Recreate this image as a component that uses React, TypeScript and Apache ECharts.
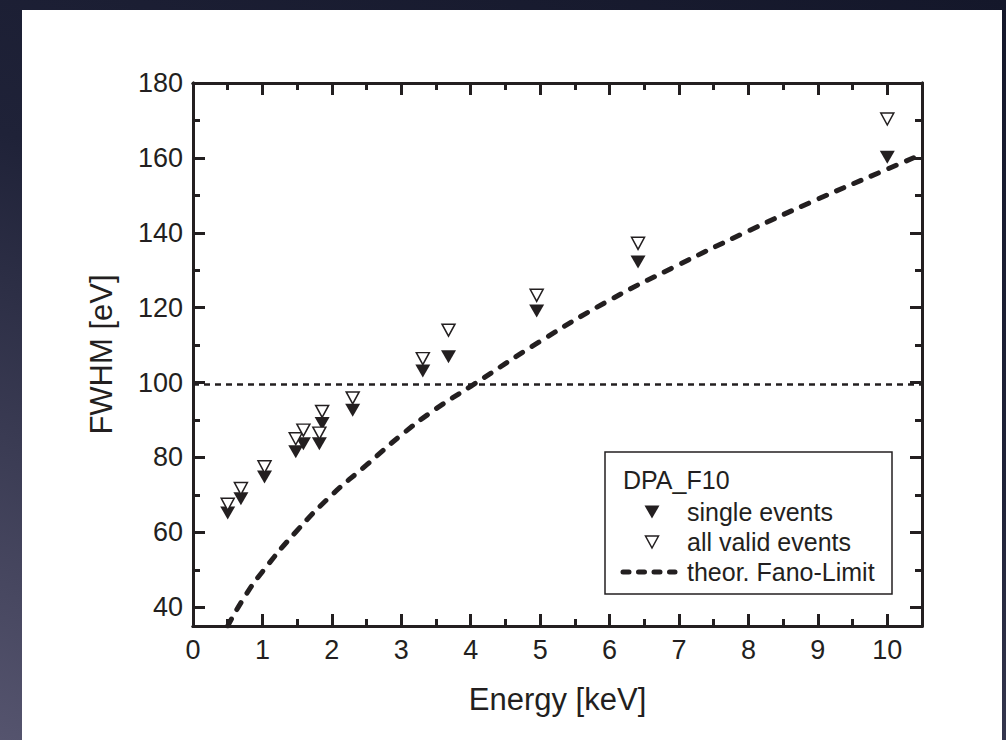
import React, { useEffect, useRef } from "react";
import * as echarts from "echarts";

// ---- data ----
const energy = [0.5, 0.69, 1.03, 1.48, 1.59, 1.82, 1.86, 2.3, 3.31, 3.68, 4.95, 6.41, 10.0];
const singleEvents = [65.2, 69.0, 74.8, 81.5, 83.7, 83.7, 89.1, 92.6, 103.1, 106.9, 119.1, 132.2, 160.2];
const allValidEvents = [67.5, 71.7, 77.5, 85.0, 87.3, 86.5, 92.3, 95.9, 106.4, 114.0, 123.3, 137.2, 170.4];

const fanoEnergy = [0.5, 0.75, 1, 1.5, 2, 2.5, 3, 3.5, 4, 5, 6, 7, 8, 9, 10, 10.5];
const fanoFwhm = [35, 43, 49.5, 60.5, 70, 78, 86, 93, 99, 111, 122, 131.5, 140.5, 149, 157, 161];

const refEnergy = [0, 10.5];
const refFwhm = [99.5, 99.5];

const xMajorTicks = [0, 1, 2, 3, 4, 5, 6, 7, 8, 9, 10];
const xMinorTicks = [0.5, 1.5, 2.5, 3.5, 4.5, 5.5, 6.5, 7.5, 8.5, 9.5];
const yMajorTicks = [40, 60, 80, 100, 120, 140, 160, 180];
const yMinorTicks = [50, 70, 90, 110, 130, 150, 170];

const legendTitle = "DPA_F10";
const legendLabels = ["single events", "all valid events", "theor. Fano-Limit"];

const INK = "#231f20";
const FONT = "'Liberation Sans', Arial, Helvetica, sans-serif";

export default function App() {
  const ref = useRef<HTMLDivElement>(null);

  useEffect(() => {
    if (!ref.current) return;
    const chart = echarts.init(ref.current, undefined, { renderer: "svg" });

    const pair = (xs: number[], ys: number[]) => xs.map((x, i) => [x, ys[i]]);

    const mkX = (position: "top" | "bottom", ticks: number[], len: number, labels: boolean, main: boolean) => ({
      type: "value",
      position,
      min: 0,
      max: 10.5,
      axisLine: { show: true, onZero: false, lineStyle: { color: INK, width: 3 } },
      axisTick: { show: true, inside: true, length: len, customValues: ticks, lineStyle: { color: INK, width: 3 } },
      axisLabel: labels
        ? { show: true, customValues: ticks, fontSize: 27, color: INK, fontFamily: FONT, margin: 10 }
        : { show: false },
      splitLine: { show: false },
      name: main ? "Energy [keV]" : "",
      nameLocation: "middle",
      nameGap: 58,
      nameTextStyle: { fontSize: 31, color: INK, fontFamily: FONT },
    });

    const mkY = (position: "left" | "right", ticks: number[], len: number, labels: boolean, main: boolean) => ({
      type: "value",
      position,
      min: 35,
      max: 180,
      axisLine: { show: true, onZero: false, lineStyle: { color: INK, width: 3 } },
      axisTick: { show: true, inside: true, length: len, customValues: ticks, lineStyle: { color: INK, width: 3 } },
      axisLabel: labels
        ? { show: true, customValues: ticks, fontSize: 27, color: INK, fontFamily: FONT, margin: 10 }
        : { show: false },
      splitLine: { show: false },
      name: main ? "FWHM [eV]" : "",
      nameLocation: "middle",
      nameGap: 76,
      nameTextStyle: { fontSize: 31, color: INK, fontFamily: FONT },
    });

    // legend geometry (chart coords)
    const bx = 583, by = 442, bw = 287, bh = 142;
    const symX = 630;
    const rowY = [502, 532, 562];
    const textX = 665;

    chart.setOption({
      animation: false,
      backgroundColor: "#ffffff",
      grid: { left: 171, top: 73, right: 80, bottom: 114, containLabel: false },
      xAxis: [
        mkX("bottom", xMajorTicks, 12, true, true),
        mkX("bottom", xMinorTicks, 7, false, false),
        mkX("top", xMajorTicks, 12, false, false),
        mkX("top", xMinorTicks, 7, false, false),
      ],
      yAxis: [
        mkY("left", yMajorTicks, 12, true, true),
        mkY("left", yMinorTicks, 7, false, false),
        mkY("right", yMajorTicks, 12, false, false),
        mkY("right", yMinorTicks, 7, false, false),
      ],
      series: [
        {
          name: "reference",
          type: "line",
          data: pair(refEnergy, refFwhm),
          symbol: "none",
          lineStyle: { color: INK, width: 2.5, type: [6, 5] },
          z: 1,
        },
        {
          name: "theor. Fano-Limit",
          type: "line",
          data: pair(fanoEnergy, fanoFwhm),
          smooth: true,
          symbol: "none",
          clip: true,
          lineStyle: { color: INK, width: 5, type: [8, 11], cap: "round" },
          z: 2,
        },
        {
          name: "single events",
          type: "scatter",
          data: pair(energy, singleEvents),
          symbol: "path://M0,0L2,0L1,1.75Z",
          symbolSize: [15, 13],
          itemStyle: { color: INK, borderWidth: 0, opacity: 1 },
          z: 3,
        },
        {
          name: "all valid events",
          type: "scatter",
          data: pair(energy, allValidEvents),
          symbol: "path://M0,0L2,0L1,1.75Z",
          symbolSize: [13, 12],
          itemStyle: { color: "#ffffff", borderColor: INK, borderWidth: 1.5, opacity: 1 },
          z: 4,
        },
      ],
      graphic: [
        {
          type: "rect",
          shape: { x: bx, y: by, width: bw, height: bh },
          style: { fill: "#ffffff", stroke: INK, lineWidth: 1.5 },
          z: 10,
        },
        {
          type: "text",
          x: bx + 18,
          y: 470,
          style: { text: legendTitle, fontSize: 25, fill: INK, fontFamily: FONT, verticalAlign: "middle" },
          z: 11,
        },
        {
          type: "polygon",
          shape: { points: [[symX - 7.5, rowY[0] - 6.5], [symX + 7.5, rowY[0] - 6.5], [symX, rowY[0] + 6.5]] },
          style: { fill: INK },
          z: 11,
        },
        {
          type: "polygon",
          shape: { points: [[symX - 6.5, rowY[1] - 6], [symX + 6.5, rowY[1] - 6], [symX, rowY[1] + 6]] },
          style: { fill: "#ffffff", stroke: INK, lineWidth: 1.5 },
          z: 11,
        },
        {
          type: "line",
          shape: { x1: symX - 29, y1: rowY[2], x2: symX + 23, y2: rowY[2] },
          style: { stroke: INK, lineWidth: 5, lineDash: [6, 9.5], lineCap: "round" },
          z: 11,
        },
        ...legendLabels.map((t, i) => ({
          type: "text",
          x: textX,
          y: rowY[i],
          style: { text: t, fontSize: 25, fill: INK, fontFamily: FONT, verticalAlign: "middle" },
          z: 11,
        })),
      ],
    });

    return () => chart.dispose();
  }, []);

  return (
    <div
      style={{
        position: "fixed",
        left: 0,
        top: 0,
        width: 1006,
        height: 740,
        background: "linear-gradient(200deg, #14172a 0%, #1f2238 45%, #55546e 100%)",
        overflow: "hidden",
      }}
    >
      <div
        ref={ref}
        style={{ position: "absolute", left: 22, top: 10, width: 980, height: 730 }}
      />
    </div>
  );
}
